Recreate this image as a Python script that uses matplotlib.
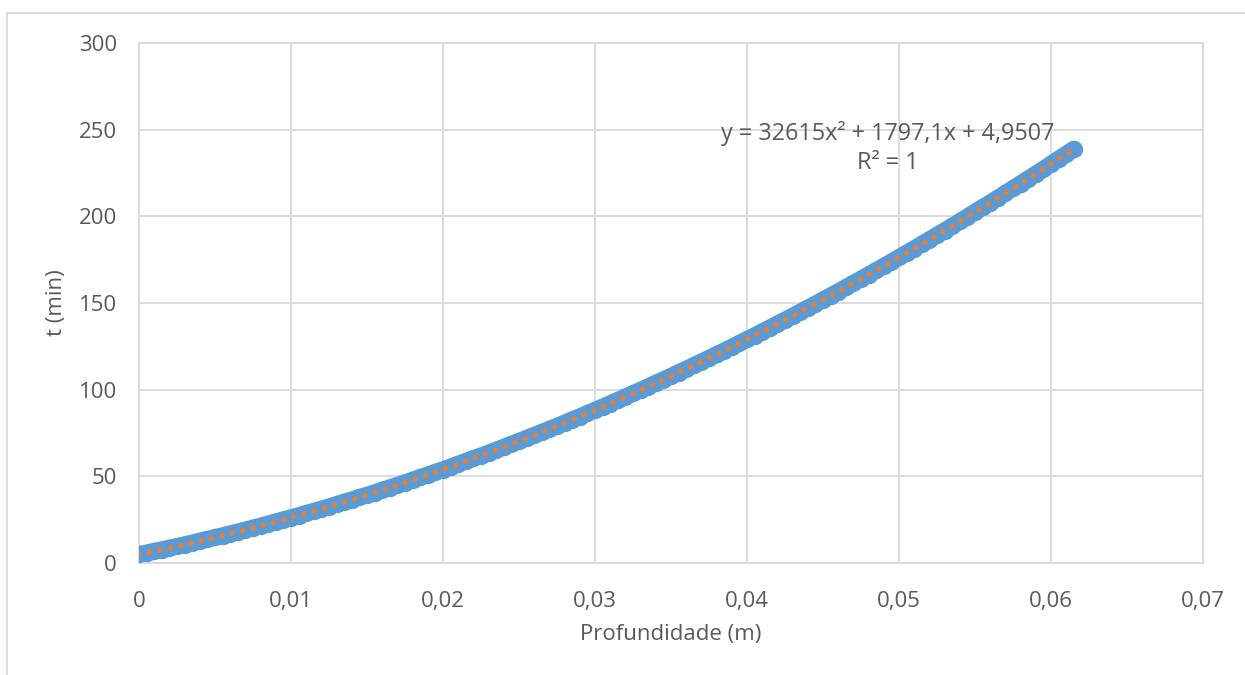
import numpy as np
import matplotlib
matplotlib.use("Agg")
import matplotlib.pyplot as plt
from matplotlib.patches import Rectangle

# Depth (m) and time (min)
profundidade = [i * 0.0005 for i in range(124)]
tempo = [5.0, 5.9, 6.8, 7.7, 8.7, 9.6, 10.6, 11.6, 12.7, 13.7,
         14.8, 15.8, 16.9, 18.0, 19.1, 20.3, 21.4, 22.6, 23.8, 25.0,
         26.2, 27.4, 28.7, 29.9, 31.2, 32.5, 33.8, 35.2, 36.5, 37.9,
         39.2, 40.6, 42.1, 43.5, 44.9, 46.4, 47.9, 49.4, 50.9, 52.4,
         53.9, 55.5, 57.1, 58.7, 60.3, 61.9, 63.5, 65.2, 66.9, 68.6,
         70.3, 72.0, 73.7, 75.5, 77.2, 79.0, 80.8, 82.7, 84.5, 86.3,
         88.2, 90.1, 92.0, 93.9, 95.9, 97.8, 99.8, 101.8, 103.8, 105.8,
         107.8, 109.9, 111.9, 114.0, 116.1, 118.2, 120.3, 122.5, 124.6, 126.8,
         129.0, 131.2, 133.5, 135.7, 138.0, 140.2, 142.5, 144.8, 147.2, 149.5,
         151.9, 154.2, 156.6, 159.0, 161.5, 163.9, 166.4, 168.8, 171.3, 173.8,
         176.3, 178.9, 181.4, 184.0, 186.6, 189.2, 191.8, 194.4, 197.1, 199.8,
         202.5, 205.2, 207.9, 210.6, 213.4, 216.1, 218.9, 221.7, 224.5, 227.3,
         230.2, 233.1, 235.9, 238.8]

x_ticks = [0, 0.01, 0.02, 0.03, 0.04, 0.05, 0.06, 0.07]
x_tick_labels = ["0", "0,01", "0,02", "0,03", "0,04", "0,05", "0,06", "0,07"]
y_ticks = [0, 50, 100, 150, 200, 250, 300]
y_tick_labels = ["0", "50", "100", "150", "200", "250", "300"]

equation = "y = 32615x² + 1797,1x + 4,9507"
r2_text = "R² = 1"

plt.rcParams['font.family'] = ['Open Sans', 'DejaVu Sans']

BLUE = "#5B9BD5"
ORANGE = "#ED7D31"
GRID = "#D9D9D9"
TXT = "#595959"
FS = 16

fig = plt.figure(figsize=(12.45, 6.75), dpi=100)
ax = fig.add_axes([139/1245, 1 - 563/675, (1203-139)/1245, (563-43)/675])

# outer chart frame
fig.patches.append(Rectangle((7/1245, -0.1), 2.0, 1 - 13/675 + 0.1,
                             transform=fig.transFigure, fill=False,
                             edgecolor=GRID, linewidth=1.3))

# data series (markers drawn densely so they merge into a band)
ax.plot(profundidade, tempo, color=BLUE, linewidth=12,
        solid_capstyle='round', solid_joinstyle='round',
        marker='o', markersize=12.5, markeredgewidth=0, zorder=3)

# polynomial trendline (order 2)
coef = np.polyfit(profundidade, tempo, 2)
xx = np.linspace(min(profundidade), max(profundidade), 400)
ax.plot(xx, np.polyval(coef, xx), color=ORANGE, linewidth=3.9,
        linestyle=(0, (0.01, 1.95)), dash_capstyle='round', zorder=4)

ax.set_xlim(0, 0.07)
ax.set_ylim(0, 300)
ax.set_xticks(x_ticks)
ax.set_xticklabels(x_tick_labels)
ax.set_yticks(y_ticks)
ax.set_yticklabels(y_tick_labels)
ax.tick_params(length=0, labelsize=FS, labelcolor=TXT)
ax.tick_params(axis='x', pad=20)
ax.tick_params(axis='y', pad=16)
ax.grid(True, color=GRID, linewidth=1.3)
ax.set_axisbelow(True)
for sp in ax.spines.values():
    sp.set_color(GRID)
    sp.set_linewidth(1.3)

ax.set_xlabel("Profundidade (m)", fontsize=FS, color=TXT, labelpad=9)
ax.set_ylabel("t (min)", fontsize=FS, color=TXT, labelpad=8)

ax.text(0.04928, 248, equation, fontsize=16.8, color=TXT, ha='center', va='center')
ax.text(0.04928, 230.5, r2_text, fontsize=16.8, color=TXT, ha='center', va='center')

fig.savefig("out.png", dpi=100)
